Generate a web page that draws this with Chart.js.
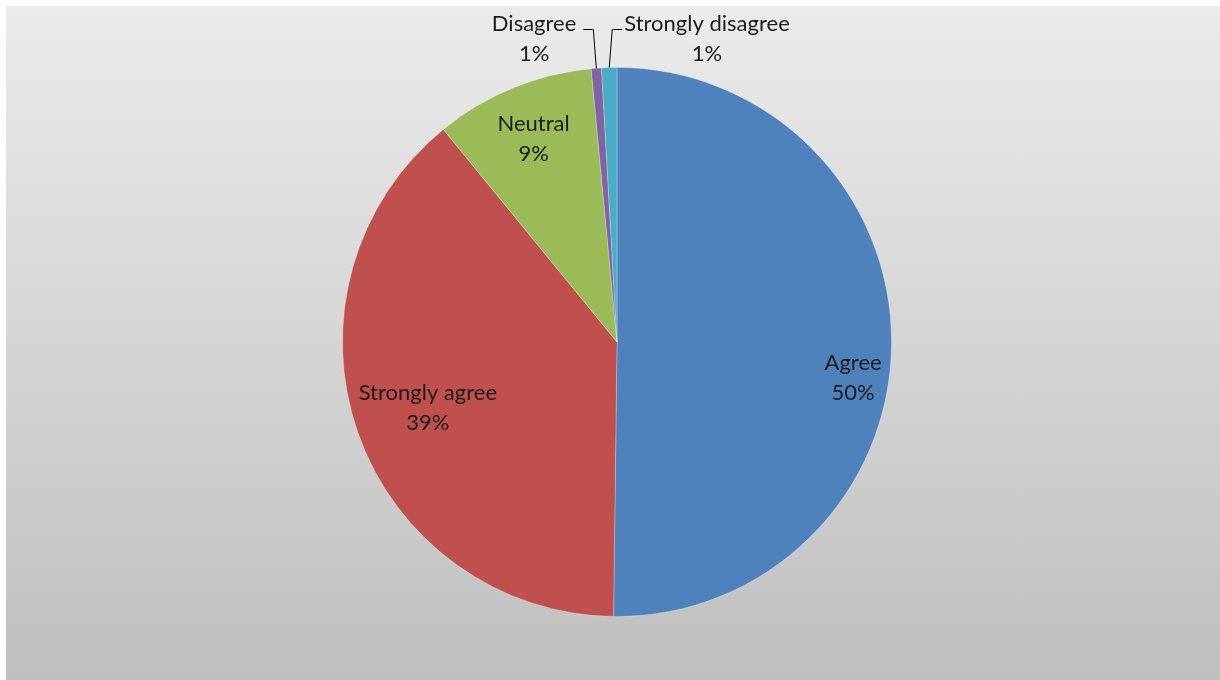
<!DOCTYPE html>
<html>
<head>
<meta charset="utf-8">
<script src="https://cdn.jsdelivr.net/npm/chart.js@4/dist/chart.umd.min.js"></script>
<style>
  body { margin: 0; background: #fff; }
  #bg { position: absolute; left: 6px; top: 6px; width: 1214px; height: 674px;
        background: linear-gradient(to bottom, #ebebeb, #bfbfbf); }
  #wrap { position: absolute; left: 0; top: 0; width: 1220px; height: 680px; }
</style>
</head>
<body>
<div id="bg"></div>
<div id="wrap"><canvas id="pie"></canvas></div>
<script>
// Survey answers, share of respondents (%)
const categories = ['Agree', 'Strongly agree', 'Neutral', 'Disagree', 'Strongly disagree'];
const shares = [50.2, 38.9, 9.4, 0.6, 0.9];
const sliceColors = ['#4F81BD', '#C0504D', '#9BBB59', '#8064A2', '#4BACC6'];

// where each data label goes: inside (radius fraction, angle shift in deg) or outside with a leader line
const labelPlacement = [
    { type: 'in', r: 0.87, shift: 8.3 },
    { type: 'in', r: 0.73, shift: 0 },
    { type: 'in', r: 0.80, shift: 0 },
    { type: 'out', side: -1 },
    { type: 'out', side: 1 },
];

const LABEL_FONT = '22px Lato, "Open Sans", sans-serif';
const LINE_GAP = 30;

const dataLabels = {
    id: 'dataLabels',
    afterDatasetsDraw(chart) {
        const ctx = chart.ctx;
        const meta = chart.getDatasetMeta(0);
        const total = shares.reduce((a, b) => a + b, 0);
        ctx.save();
        ctx.font = LABEL_FONT;
        ctx.fillStyle = '#1c1c1c';
        ctx.textAlign = 'center';
        ctx.textBaseline = 'middle';
        meta.data.forEach(function(arc, i) {
            const p = arc.getProps(['x', 'y', 'startAngle', 'endAngle', 'outerRadius'], true);
            const mid = (p.startAngle + p.endAngle) / 2;
            const lines = [categories[i], Math.round(shares[i] / total * 100) + '%'];
            const place = labelPlacement[i];
            let cx, cy;
            if (place.type === 'in') {
                const a = mid + place.shift * Math.PI / 180;
                cx = p.x + Math.cos(a) * p.outerRadius * place.r;
                cy = p.y + Math.sin(a) * p.outerRadius * place.r;
            } else {
                const ex = p.x + Math.cos(mid) * p.outerRadius;
                const ey = p.y + Math.sin(mid) * p.outerRadius;
                const elbowX = ex + place.side * 3;
                const elbowY = p.y - p.outerRadius - 38;
                const endX = elbowX + place.side * 10;
                ctx.strokeStyle = '#000';
                ctx.lineWidth = 1;
                ctx.beginPath();
                ctx.moveTo(ex, ey);
                ctx.lineTo(elbowX, elbowY);
                ctx.lineTo(endX, elbowY);
                ctx.stroke();
                const w = Math.max(...lines.map(t => ctx.measureText(t).width));
                cx = place.side < 0 ? endX - 7 - w / 2 : endX + 2 + w / 2;
                cy = elbowY + 9;
            }
            ctx.fillText(lines[0], cx, cy - LINE_GAP / 2);
            ctx.fillText(lines[1], cx, cy + LINE_GAP / 2);
        });
        ctx.restore();
    }
};

new Chart(document.getElementById('pie'), {
    type: 'pie',
    data: {
        labels: categories,
        datasets: [{
            data: shares,
            backgroundColor: sliceColors,
            borderColor: 'rgba(255,255,255,0.25)',
            borderWidth: 1,
        }],
    },
    options: {
        responsive: true,
        maintainAspectRatio: false,
        animation: false,
        layout: { padding: { top: 67, bottom: 63, left: 14, right: 0 } },
        plugins: {
            legend: { display: false },
            tooltip: { enabled: false },
        },
    },
    plugins: [dataLabels],
});
</script>
</body>
</html>
